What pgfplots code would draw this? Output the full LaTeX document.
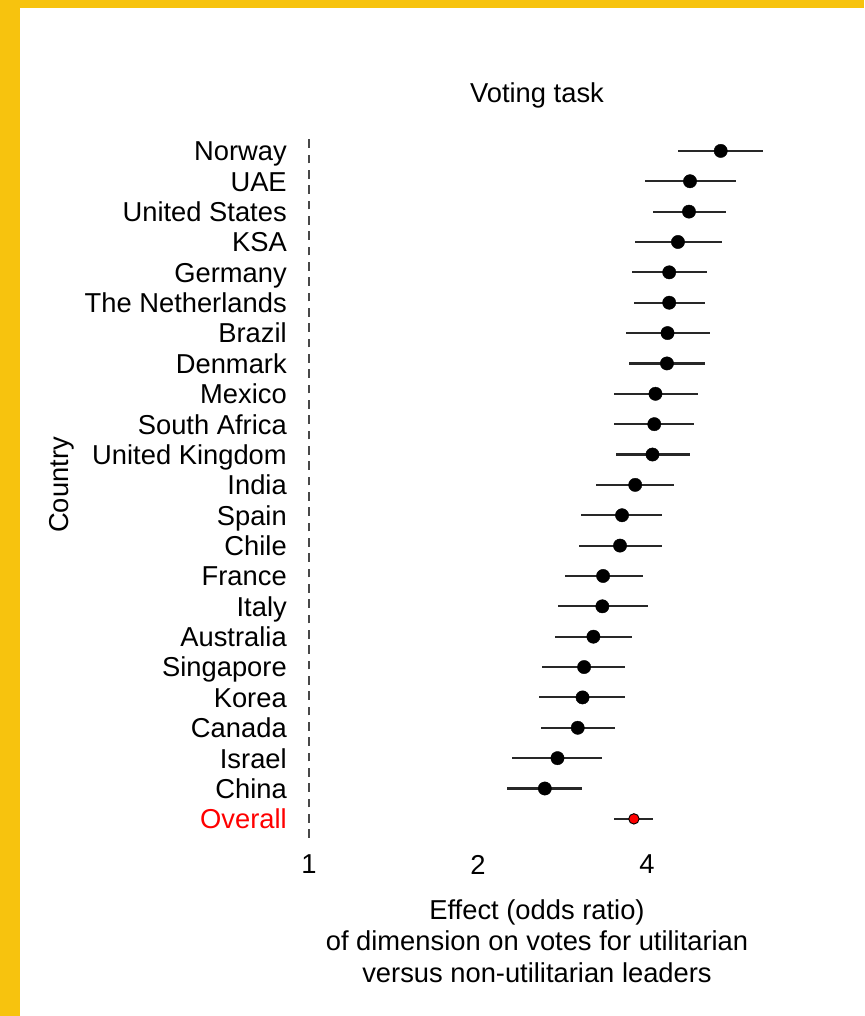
\documentclass[border=0pt]{standalone}
\usepackage{fontspec}
\setmainfont{Liberation Sans}
\usepackage{pgfplots}
\usepackage{pgfplotstable}
\pgfplotsset{compat=1.18}
\definecolor{frameyellow}{RGB}{247,195,14}
\definecolor{barcol}{RGB}{40,40,40}
\newcommand{\lf}{\fontsize{20.5}{24}\selectfont}

\pgfplotstableread{
row or lo hi
22 5.41 4.55 6.43
21 4.77 3.97 5.76
20 4.75 4.09 5.53
19 4.54 3.81 5.43
18 4.38 3.76 5.12
17 4.38 3.79 5.08
16 4.35 3.67 5.18
15 4.34 3.71 5.08
14 4.14 3.50 4.92
13 4.12 3.50 4.85
12 4.09 3.52 4.76
11 3.81 3.25 4.46
10 3.61 3.05 4.26
9 3.58 3.03 4.26
8 3.34 2.86 3.93
7 3.33 2.78 4.01
6 3.21 2.74 3.76
5 3.09 2.60 3.66
4 3.07 2.57 3.66
3 3.01 2.59 3.51
2 2.77 2.30 3.33
1 2.63 2.25 3.06
}\countries

\pgfplotstableread{
row or lo hi
0 3.79 3.50 4.09
}\overall

\begin{document}
\begin{tikzpicture}[x=1pt,y=1pt]
% background and frame
\fill[white] (0,0) rectangle (648,762);
\fill[frameyellow] (0,0) rectangle (15,762);
\fill[frameyellow] (0,756) rectangle (648,762);

\begin{axis}[
  at={(225pt,133.5pt)}, anchor=south west,
  scale only axis,
  width=375pt, height=528.75pt,
  xmode=log, log basis x=2,
  xmin=0.9637, xmax=7.49,
  ymin=-0.63, ymax=22.59,
  clip=false,
  axis line style={draw=none},
  tick style={draw=none},
  xtick={1,2,4},
  xticklabels={1,2,4},
  ytick={0,...,22},
  yticklabels={{\color{red}Overall},China,Israel,Canada,Korea,Singapore,Australia,Italy,France,Chile,Spain,India,United Kingdom,South Africa,Mexico,Denmark,Brazil,The Netherlands,Germany,KSA,United States,UAE,Norway},
  yticklabel style={font=\lf, inner sep=0pt, anchor=base east, xshift=-9.75pt, yshift=-7.4pt},
  xticklabel style={font=\lf, inner sep=0pt, anchor=north, yshift=-12.5pt},
]
% reference line at 1
\addplot[line width=1.3pt, color=barcol!85, dash pattern=on 6.5pt off 5pt] coordinates {(1,-0.63) (1,22.59)};

% confidence intervals
\addplot[only marks, mark=none,
  error bars/.cd, x dir=both, x explicit, error mark=none,
  error bar style={line width=1.6pt, color=barcol}]
  table[x=or, y=row, x error plus expr=\thisrow{hi}-\thisrow{or}, x error minus expr=\thisrow{or}-\thisrow{lo}] {\countries};
\addplot[only marks, mark=none,
  error bars/.cd, x dir=both, x explicit, error mark=none,
  error bar style={line width=1.6pt, color=barcol}]
  table[x=or, y=row, x error plus expr=\thisrow{hi}-\thisrow{or}, x error minus expr=\thisrow{or}-\thisrow{lo}] {\overall};

% point estimates
\addplot[only marks, mark=*, mark size=5pt, mark options={fill=black, draw=black, line width=0.3pt}]
  table[x=or, y=row] {\countries};
\addplot[only marks, mark=*, mark size=3.9pt, mark options={fill=red, draw=black, line width=0.7pt}]
  table[x=or, y=row] {\overall};
\end{axis}

% titles
\node[font=\lf, anchor=center] at (402.75,690.75) {Voting task};
\node[font=\lf, rotate=90, anchor=center] at (46.5,398.25) {Country};
\node[font=\lf, anchor=north, align=center, inner sep=0pt] at (402.75,87.5)
  {Effect (odds ratio)\\[-0.5pt] of dimension on votes for utilitarian\\[-0.5pt] versus non-utilitarian leaders};

\pgfresetboundingbox
\useasboundingbox (0,0) rectangle (648,762);
\end{tikzpicture}
\end{document}
